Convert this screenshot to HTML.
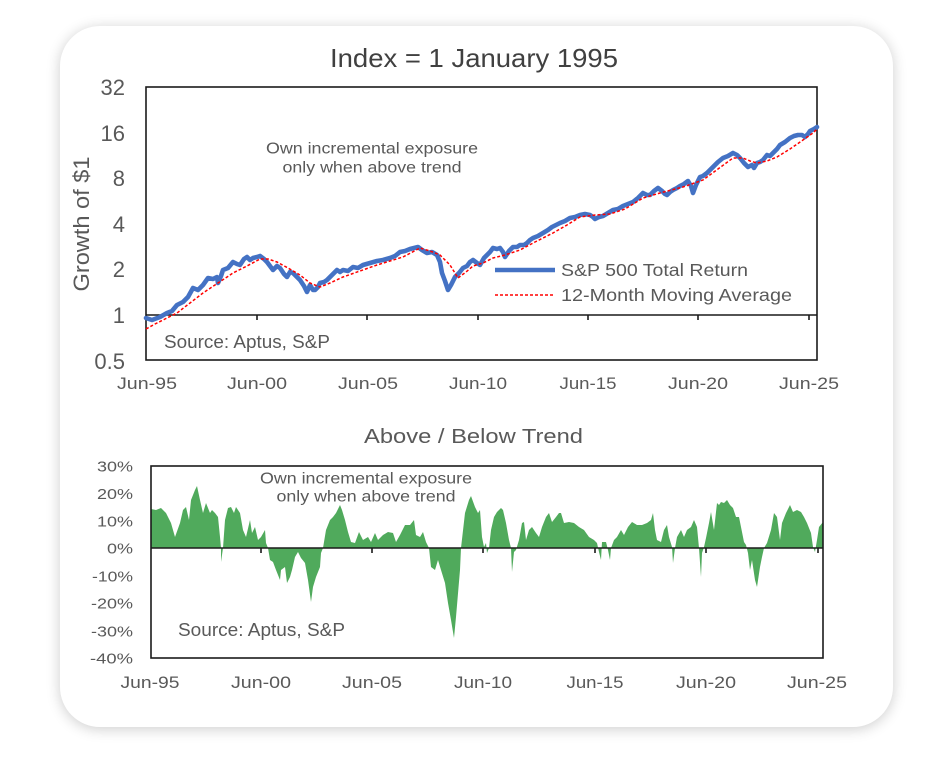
<!DOCTYPE html>
<html>
<head>
<meta charset="utf-8">
<style>
html,body{margin:0;padding:0;background:#ffffff;}
body{width:944px;height:758px;position:relative;overflow:hidden;font-family:"Liberation Sans",sans-serif;}
.card{position:absolute;left:60px;top:26px;width:833px;height:701px;border-radius:40px;background:#fff;box-shadow:0 2px 14px rgba(0,0,0,0.20);}
svg{position:absolute;left:0;top:0;}
text{font-family:"Liberation Sans",sans-serif;fill:#595959;}
</style>
</head>
<body>
<div class="card"></div>
<svg width="944" height="758" viewBox="0 0 944 758" xmlns="http://www.w3.org/2000/svg">
  <!-- Top chart -->
  <text x="474" y="67" font-size="26" text-anchor="middle" textLength="288" lengthAdjust="spacingAndGlyphs" style="fill:#404040">Index = 1 January 1995</text>

  <g font-size="22" text-anchor="end">
    <text x="125" y="95">32</text>
    <text x="125" y="141">16</text>
    <text x="125" y="186">8</text>
    <text x="125" y="232">4</text>
    <text x="125" y="277">2</text>
    <text x="125" y="323">1</text>
    <text x="125" y="369">0.5</text>
  </g>
  <text transform="translate(89,224) rotate(-90)" font-size="22" text-anchor="middle" textLength="135" lengthAdjust="spacingAndGlyphs">Growth of $1</text>

  <g font-size="17" text-anchor="middle">
    <text x="147" y="389" textLength="60" lengthAdjust="spacingAndGlyphs">Jun-95</text>
    <text x="257" y="389" textLength="60" lengthAdjust="spacingAndGlyphs">Jun-00</text>
    <text x="368" y="389" textLength="60" lengthAdjust="spacingAndGlyphs">Jun-05</text>
    <text x="478" y="389" textLength="58" lengthAdjust="spacingAndGlyphs">Jun-10</text>
    <text x="588" y="389" textLength="57" lengthAdjust="spacingAndGlyphs">Jun-15</text>
    <text x="698" y="389" textLength="60" lengthAdjust="spacingAndGlyphs">Jun-20</text>
    <text x="809" y="389" textLength="60" lengthAdjust="spacingAndGlyphs">Jun-25</text>
  </g>

  <rect x="146" y="87" width="671" height="273" fill="none" stroke="#1a1a1a" stroke-width="1.6"/>
  <line x1="146" y1="315" x2="817" y2="315" stroke="#1a1a1a" stroke-width="1.6"/>
  <g stroke="#1a1a1a" stroke-width="1.6">
    <line x1="257" y1="315" x2="257" y2="320"/>
    <line x1="367" y1="315" x2="367" y2="320"/>
    <line x1="478" y1="315" x2="478" y2="320"/>
    <line x1="588" y1="315" x2="588" y2="320"/>
    <line x1="698" y1="315" x2="698" y2="320"/>
    <line x1="809" y1="315" x2="809" y2="320"/>
  </g>

  <g font-size="15.5" text-anchor="middle">
    <text x="372" y="153.5" textLength="212" lengthAdjust="spacingAndGlyphs">Own incremental exposure</text>
    <text x="372" y="172.5" textLength="179" lengthAdjust="spacingAndGlyphs">only when above trend</text>
  </g>
  <text x="164" y="348" font-size="18" textLength="166" lengthAdjust="spacingAndGlyphs">Source: Aptus, S&amp;P</text>

  <polyline fill="none" stroke="#4472C4" stroke-width="4.6" stroke-linejoin="round" stroke-linecap="round" points="146,318 152,320 160,317 167,313 172,311 177,305 183,302 188,297 193,288 198,290 203,285 208,278 213,279 217,277 218,283 221,276 223,270 228,268 233,262 237,264 240,265 244,259 247,257 250,260 253,258 257,257 260,256 264,259 267,262 270,266 273,270 277,266 280,268 284,274 287,277 290,272 293,273 297,277 300,280 304,286 307,292 310,285 313,290 315,290 318,287 320,283 324,282 327,280 332,275 337,270 340,272 343,270 348,271 353,267 358,268 363,265 370,263 377,261 383,260 390,258 395,256 400,252 405,251 410,249 414,248 418,247 422,250 427,253 432,252 437,255 440,262 442,273 445,281 448,290 451,285 455,277 459,273 463,268 467,266 470,262 473,260 477,263 480,265 484,258 490,252 493,248 497,249 500,248 503,252 505,257 509,251 513,247 517,247 520,245 524,245 527,243 530,240 533,238 538,236 543,233 548,230 552,227 556,225 560,223 565,221 570,218 575,217 580,215 585,214 590,215 593,217 595,219 599,217 603,216 608,213 613,210 618,209 623,206 628,204 633,202 638,198 643,193 647,195 650,195 654,191 658,188 662,191 665,194 667,195 670,192 673,190 677,188 680,186 684,184 688,181 691,186 693,193 696,185 700,177 703,176 707,173 710,170 713,167 718,162 723,158 728,156 733,153 737,155 740,158 744,163 748,167 752,165 754,168 757,163 760,162 763,160 767,155 770,156 773,153 777,149 780,145 785,142 790,138 794,136 798,135 802,135 805,137 808,134 810,131 814,129 817,127"/>
  <polyline fill="none" stroke="#FF0000" stroke-width="1.5" stroke-dasharray="3,2" points="146,329 155,324 165,319 177,313 190,303 203,293 218,283 233,273 247,266 260,259 268,259 277,262 288,268 300,275 310,283 320,287 330,283 343,277 360,271 377,265 390,261 403,257 420,248 430,251 440,255 450,265 458,278 466,272 473,266 483,263 493,258 505,255 520,250 535,242 553,233 567,225 580,217 595,215 610,214 625,209 643,198 660,193 683,187 703,180 718,169 733,158 743,158 750,161 757,163 767,161 777,157 790,149 803,140 813,133 817,129"/>

  <!-- legend -->
  <line x1="495" y1="270" x2="555" y2="270" stroke="#4472C4" stroke-width="4.5"/>
  <line x1="495" y1="295" x2="555" y2="295" stroke="#FF0000" stroke-width="1.5" stroke-dasharray="3,2"/>
  <text x="561" y="276" font-size="17.5" textLength="187" lengthAdjust="spacingAndGlyphs">S&amp;P 500 Total Return</text>
  <text x="561" y="301" font-size="17.5" textLength="231" lengthAdjust="spacingAndGlyphs">12-Month Moving Average</text>

  <!-- Bottom chart -->
  <text x="473.5" y="443" font-size="20" text-anchor="middle" textLength="219" lengthAdjust="spacingAndGlyphs">Above / Below Trend</text>

  <g font-size="15" text-anchor="end">
    <text x="133" y="471.5" textLength="36" lengthAdjust="spacingAndGlyphs">30%</text>
    <text x="133" y="499" textLength="36" lengthAdjust="spacingAndGlyphs">20%</text>
    <text x="133" y="526.5" textLength="36" lengthAdjust="spacingAndGlyphs">10%</text>
    <text x="133" y="553.5" textLength="26" lengthAdjust="spacingAndGlyphs">0%</text>
    <text x="133" y="581.5" textLength="41" lengthAdjust="spacingAndGlyphs">-10%</text>
    <text x="133" y="608.5" textLength="42" lengthAdjust="spacingAndGlyphs">-20%</text>
    <text x="133" y="636.5" textLength="42" lengthAdjust="spacingAndGlyphs">-30%</text>
    <text x="133" y="663.5" textLength="43" lengthAdjust="spacingAndGlyphs">-40%</text>
  </g>

  <g font-size="17" text-anchor="middle">
    <text x="150" y="688" textLength="59" lengthAdjust="spacingAndGlyphs">Jun-95</text>
    <text x="261" y="688" textLength="60" lengthAdjust="spacingAndGlyphs">Jun-00</text>
    <text x="372" y="688" textLength="60" lengthAdjust="spacingAndGlyphs">Jun-05</text>
    <text x="483" y="688" textLength="58" lengthAdjust="spacingAndGlyphs">Jun-10</text>
    <text x="595" y="688" textLength="57" lengthAdjust="spacingAndGlyphs">Jun-15</text>
    <text x="706" y="688" textLength="60" lengthAdjust="spacingAndGlyphs">Jun-20</text>
    <text x="817" y="688" textLength="60" lengthAdjust="spacingAndGlyphs">Jun-25</text>
  </g>

  <path fill="#50AA5C" d="M151,548 L151,509 156,510 161,508 166,513 171,523 175,537 180,523 183,510 186,507 189,520 191,500 195,490 197,486 200,500 203,513 206,503 210,513 212,510 215,513 218,517 220,537 221,548 221,562 223,548 225,520 228,508 231,507 234,513 236,507 240,513 243,530 246,537 250,520 252,533 255,527 258,540 261,537 265,530 266,543 268,548 270,560 273,562 276,570 280,580 281,570 285,567 287,583 290,577 292,570 295,557 298,552 301,558 305,563 308,580 311,602 313,587 316,577 320,567 321,553 323,548 326,530 330,520 333,517 336,513 340,505 342,510 345,520 348,532 351,542 355,543 359,532 363,540 368,537 371,542 375,533 378,540 383,535 388,532 393,533 396,542 400,535 405,525 410,525 414,520 416,535 420,537 423,532 426,542 429,548 431,567 435,570 438,560 441,570 445,583 448,603 451,620 454,638 456,617 460,570 461,548 465,513 469,500 471,496 475,507 478,513 480,510 482,537 484,547 486,543 487,553 489,548 491,530 494,517 497,512 501,508 503,510 506,523 509,540 511,548 512,572 514,552 516,550 519,540 522,523 524,522 526,540 529,530 532,527 536,533 539,537 542,527 546,517 549,513 552,522 556,517 559,513 561,513 564,523 569,522 574,523 579,527 584,530 589,537 594,540 597,543 599,552 601,560 602,542 606,542 608,550 610,560 611,548 614,540 617,537 621,530 624,535 628,527 632,522 637,525 642,525 647,523 651,520 653,513 655,530 657,540 661,542 664,530 667,525 669,537 672,547 673,563 675,548 677,537 681,530 684,537 687,530 691,527 694,520 697,527 699,548 701,577 702,553 704,547 706,538 709,523 711,512 714,530 717,503 719,505 721,502 724,503 727,500 730,505 733,508 736,517 739,517 741,527 744,542 746,545 748,553 750,570 752,560 755,580 757,587 760,567 762,557 764,548 767,543 771,530 774,513 777,517 780,540 782,523 786,513 790,505 793,512 797,510 801,512 804,517 807,523 811,533 813,547 815,552 817,540 819,527 823,522 L823,548 Z"/>

  <rect x="151" y="466" width="672" height="192" fill="none" stroke="#1a1a1a" stroke-width="1.6"/>
  <line x1="151" y1="548" x2="823" y2="548" stroke="#1a1a1a" stroke-width="1.6"/>
  <g stroke="#1a1a1a" stroke-width="1.6">
    <line x1="261" y1="548" x2="261" y2="553"/>
    <line x1="372" y1="548" x2="372" y2="553"/>
    <line x1="483" y1="548" x2="483" y2="553"/>
    <line x1="595" y1="548" x2="595" y2="553"/>
    <line x1="706" y1="548" x2="706" y2="553"/>
    <line x1="818" y1="548" x2="818" y2="553"/>
  </g>

  <g font-size="15.5" text-anchor="middle">
    <text x="366" y="483.5" textLength="212" lengthAdjust="spacingAndGlyphs">Own incremental exposure</text>
    <text x="366" y="501.5" textLength="179" lengthAdjust="spacingAndGlyphs">only when above trend</text>
  </g>
  <text x="178" y="636" font-size="18" textLength="167" lengthAdjust="spacingAndGlyphs">Source: Aptus, S&amp;P</text>
</svg>
</body>
</html>
